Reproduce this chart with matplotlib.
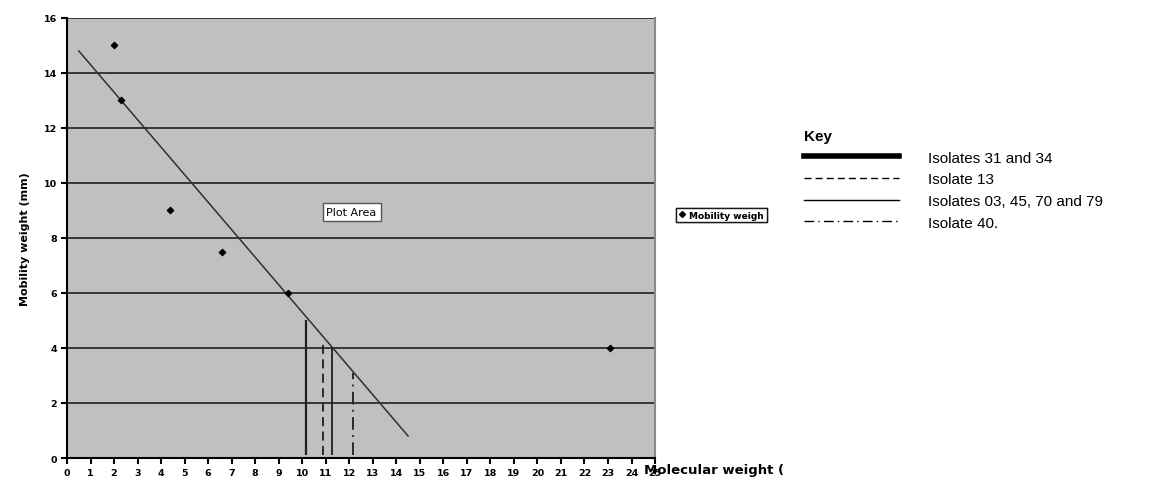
import matplotlib
matplotlib.use("Agg")
import matplotlib.pyplot as plt
from matplotlib.lines import Line2D

# measured points (molecular weight vs mobility)
mol_weight = [2.0, 2.3, 4.4, 6.6, 9.4, 23.1]
mobility = [15.0, 13.0, 9.0, 7.5, 6.0, 4.0]

# straight trend line end points
trend_x = [0.5, 14.5]
trend_y = [14.8, 0.8]

# isolate drop lines
iso_labels = ["Isolates 31 and 34", "Isolate 13",
              "Isolates 03, 45, 70 and 79", "Isolate 40."]
iso_x = [10.15, 10.9, 11.27, 12.17]
iso_top = [5.0, 4.25, 4.0, 3.1]
iso_bottom = [0.1, 0.1, 0.1, 0.1]
iso_styles = ["-", (0, (5, 3)), "-", (0, (7, 3, 1, 3))]
iso_widths = [1.6, 1.3, 1.3, 1.3]
key_widths = [4.0, 1.0, 1.0, 1.0]

x_ticks = list(range(0, 26))
y_ticks = list(range(0, 17, 2))

fig = plt.figure(figsize=(11.59, 4.85), dpi=100)
ax = fig.add_axes([0.0578, 0.0536, 0.5074, 0.9074])
ax.set_facecolor("#c0c0c0")

ax.set_xlim(0, 25)
ax.set_ylim(0, 16)
ax.set_xticks(x_ticks)
ax.set_yticks(y_ticks)
ax.tick_params(labelsize=6.8, length=4, width=1.5, direction="out", pad=3)
for lab in ax.get_xticklabels() + ax.get_yticklabels():
    lab.set_fontweight("bold")
ax.grid(axis="y", color="#202020", lw=1.2)
ax.set_axisbelow(True)
ax.spines["top"].set_visible(False)
ax.spines["right"].set_color("#888888")
ax.spines["right"].set_linewidth(1.5)
ax.spines["left"].set_linewidth(1.5)
ax.spines["bottom"].set_linewidth(1.5)

ax.plot(trend_x, trend_y, color="#303030", lw=1.1)
ax.scatter(mol_weight, mobility, marker="D", s=10, color="black", zorder=3)

for x, top, bot, ls, lw in zip(iso_x, iso_top, iso_bottom, iso_styles, iso_widths):
    ax.vlines(x, bot, top, colors="#202020", linestyles=[ls], lw=lw)

ax.set_ylabel("Mobility weight (mm)", fontsize=8, fontweight="bold", labelpad=10)
fig.text(0.556, 0.022, "Molecular weight (", fontsize=9.5, fontweight="bold")

ax.text(12.1, 8.95, "Plot Area", fontsize=8, ha="center", va="center",
        bbox=dict(boxstyle="square,pad=0.35", fc="white", ec="#555555", lw=1))

# clipped series legend
small = ax.legend([Line2D([], [], marker="D", ms=3, ls="", color="black")],
                  ["Mobility weigh"], loc="center left",
                  bbox_to_anchor=(1.035, 0.552), fontsize=6.5, frameon=True,
                  fancybox=False, edgecolor="black", borderpad=0.3,
                  handlelength=0.8, handletextpad=0.4, borderaxespad=0)
for t in small.get_texts():
    t.set_fontweight("bold")
ax.add_artist(small)

key_handles = [Line2D([], [], color="black", ls=ls, lw=w)
               for ls, w in zip(iso_styles, key_widths)]
key = fig.legend(key_handles, iso_labels, loc="upper left",
                 bbox_to_anchor=(0.682, 0.76), frameon=False,
                 prop={"family": "Liberation Sans", "size": 11},
                 title="Key", title_fontproperties={"family": "Liberation Sans",
                                                     "size": 11, "weight": "bold"},
                 alignment="left", handlelength=6.2, handletextpad=1.9,
                 labelspacing=0.5)

fig.savefig("out.png", dpi=100)
